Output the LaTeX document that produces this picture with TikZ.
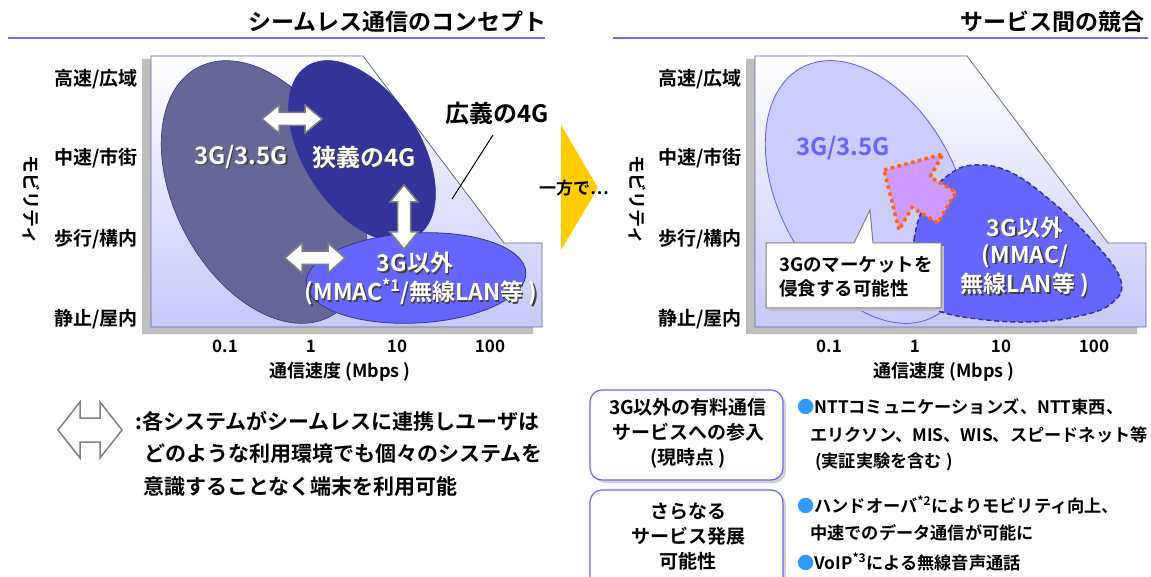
\documentclass[tikz,border=0pt]{standalone}
\usepackage{fontspec}
\setmainfont{Noto Sans CJK JP}[BoldFont=* Bold]
\definecolor{ulineblue}{RGB}{110,110,245}
\definecolor{polyedge}{RGB}{102,102,170}
\definecolor{polybot}{RGB}{200,200,250}
\definecolor{shadowgrey}{RGB}{191,191,191}
\definecolor{ellthree}{RGB}{102,102,153}
\definecolor{elldark}{RGB}{51,51,153}
\definecolor{ellmid}{RGB}{102,102,255}
\definecolor{elllight}{RGB}{204,204,255}
\definecolor{chevyellow}{RGB}{255,204,0}
\definecolor{arrpurple}{RGB}{204,153,255}
\definecolor{arrorange}{RGB}{255,102,0}
\definecolor{bulblue}{RGB}{51,153,255}
\definecolor{arrgrey}{RGB}{128,128,128}
\newcommand\dblarr[7]{%
  \draw[dblarrow, shift={(#1,#2)}, rotate=#3]
   (-#4,0) -- (-#4+#5,#6) -- (-#4+#5,#7) -- (#4-#5,#7) -- (#4-#5,#6) -- (#4,0)
   -- (#4-#5,-#6) -- (#4-#5,-#7) -- (-#4+#5,-#7) -- (-#4+#5,-#6) -- cycle;}
\newcommand\shtxt[5]{%
  \node[font=\fontsize{#4}{#4}\selectfont\bfseries, text=black!75, inner sep=0, align=center] (#1s) at (#2+1.5,#3-1.5) {#5};
  \node[font=\fontsize{#4}{#4}\selectfont\bfseries, text=white, inner sep=0, align=center] (#1) at (#2,#3) {#5};}
\begin{document}
\begin{tikzpicture}[x=1pt,y=1pt,
  title/.style={font=\fontsize{23}{23}\selectfont\bfseries, inner sep=0, anchor=east},
  uline/.style={draw=ulineblue, line width=1.3pt},
  ylab/.style={font=\fontsize{19}{19}\selectfont\bfseries, inner sep=0, anchor=east},
  xlab/.style={font=\fontsize{17}{17}\selectfont\bfseries, inner sep=0},
  mob/.style={font=\fontsize{18}{18}\selectfont\bfseries, inner sep=0, rotate=-90},
  plotpoly/.style={draw=polyedge, line width=0.8pt, top color=white, bottom color=polybot},
  dblarrow/.style={draw=arrgrey, fill=white, line width=1.5pt, line join=miter},
  btxt/.style={font=\fontsize{21}{21}\selectfont\bfseries, inner sep=0, anchor=west},
  bullt/.style={font=\fontsize{17.2}{17.2}\selectfont\bfseries, inner sep=0, anchor=west},
  boxtxt/.style={font=\fontsize{19}{25}\selectfont\bfseries, inner sep=0, align=center},
  rbox/.style={draw=ellmid, fill=white, line width=1.2pt, rounded corners=12pt},
  rboxsh/.style={fill=shadowgrey!70, rounded corners=12pt}]
\useasboundingbox (0,0) rectangle (1151,-577);
\fill[white] (0,0) rectangle (1151,-577);

% ---------- titles
\node[title] (ltitle) at (547,-22) {シームレス通信のコンセプト};
\node[title] (rtitle) at (1145,-22) {サービス間の競合};
\draw[uline] (8,-38) -- (545,-38);
\draw[uline] (613,-38) -- (1148,-38);

% ---------- left chart
\fill[shadowgrey] (142,-59) -- (356,-59) -- (496,-250) -- (533,-250) -- (533,-334) -- (142,-334) -- cycle;
\path[plotpoly] (151,-56) -- (363,-56) -- (504,-243) -- (542,-243) -- (542,-327) -- (151,-327) -- cycle;
\filldraw[fill=ellthree, draw=elldark, line width=0.6pt, rotate around={-62:(264,-192)}] (264,-192) ellipse [x radius=141pt, y radius=89pt];
\filldraw[fill=elldark, draw=elldark, line width=0.6pt, rotate around={-57:(362,-151)}] (362,-151) ellipse [x radius=101pt, y radius=58pt];
\filldraw[fill=ellmid, draw=elldark, line width=0.8pt, rotate around={3:(416,-278)}] (416,-278) ellipse [x radius=110pt, y radius=45pt];
\dblarr{292}{-119}{0}{30}{17}{14}{6.5}
\dblarr{404}{-217}{90}{32}{17}{14}{6.5}
\dblarr{315}{-258}{0}{30}{17}{15}{6.5}
\shtxt{tg}{241}{-157}{24}{3G/3.5G}
\shtxt{n4g}{364}{-157}{24}{狭義の4G}
\shtxt{oth}{415}{-263}{23}{3G以外}
\shtxt{mmac}{421}{-292}{23}{(MMAC\textsuperscript{*1}/無線LAN等 )}
\node[font=\fontsize{24}{24}\selectfont\bfseries, inner sep=0] (w4g) at (497,-113) {広義の4G};
\coordinate (leadA) at (493,-135);
\coordinate (leadB) at (452,-199);
\draw[line width=1pt] (leadA) -- (leadB);
\node[ylab] (l1) at (138,-79) {高速/広域};
\node[ylab] (l2) at (138,-158) {中速/市街};
\node[ylab] (l3) at (138,-239) {歩行/構内};
\node[ylab] (l4) at (138,-319) {静止/屋内};
\node[mob] (lmob) at (31,-200) {モビリティ};
\node[xlab] (lx1) at (225,-346) {0.1};
\node[xlab] (lx2) at (311,-346) {1};
\node[xlab] (lx3) at (397,-346) {10};
\node[xlab] (lx4) at (490,-346) {100};
\node[xlab, font=\fontsize{18}{18}\selectfont\bfseries] (lxt) at (340,-372) {通信速度 (Mbps )};

% ---------- chevron
\fill[chevyellow] (561,-125) -- (598,-188) -- (561,-250) -- cycle;
\node[font=\fontsize{17}{17}\selectfont\bfseries, inner sep=0] (ippo) at (574,-188) {一方で…};

% ---------- right chart
\fill[shadowgrey] (746,-59) -- (960,-59) -- (1100,-250) -- (1137,-250) -- (1137,-334) -- (746,-334) -- cycle;
\path[plotpoly] (755,-56) -- (967,-56) -- (1108,-243) -- (1146,-243) -- (1146,-327) -- (755,-327) -- cycle;
\filldraw[fill=elllight, draw=ellmid, line width=0.9pt, rotate around={-62:(868,-192)}] (868,-192) ellipse [x radius=141pt, y radius=89pt];
\node[font=\fontsize{24}{24}\selectfont\bfseries, text=ellmid, inner sep=0] (rtg) at (843,-148) {3G/3.5G};
\filldraw[fill=ellmid, draw=elldark, line width=1.5pt, dash pattern=on 5pt off 3pt]
  plot[smooth cycle, tension=0.7] coordinates {(912,-300) (914,-240) (928,-198) (950,-174) (975,-165) (1010,-172) (1050,-200) (1090,-238) (1120,-278) (1112,-303) (1075,-317) (1025,-322) (970,-318) (935,-310)};
\shtxt{roth}{1025}{-257}{23}{3G以外\\[4pt](MMAC/\\[4pt]無線LAN等 )}
\filldraw[fill=arrpurple, draw=arrorange, line width=3.5pt, dash pattern=on 3.5pt off 3.5pt, line join=miter]
  (884,-170) -- (943,-154) -- (930,-177) -- (956,-192) -- (938,-223) -- (912,-207.5) -- (899,-230) -- cycle;
\fill[shadowgrey] (769,-246) -- (944,-246) -- (944,-311) -- (769,-311) -- cycle;
\filldraw[fill=white, draw=arrgrey, line width=1pt] (766,-243) -- (854,-243) -- (870,-210) -- (873,-243) -- (941,-243) -- (941,-308) -- (766,-308) -- cycle;
\node[font=\fontsize{18.5}{18.5}\selectfont\bfseries, inner sep=0, anchor=west] (c1) at (779,-265) {3Gのマーケットを};
\node[font=\fontsize{18.5}{18.5}\selectfont\bfseries, inner sep=0, anchor=west] (c2) at (779,-288) {侵食する可能性};
\node[ylab] (r1) at (742,-79) {高速/広域};
\node[ylab] (r2) at (742,-158) {中速/市街};
\node[ylab] (r3) at (742,-239) {歩行/構内};
\node[ylab] (r4) at (742,-319) {静止/屋内};
\node[mob] (rmob) at (637,-200) {モビリティ};
\node[xlab] (rx1) at (829,-346) {0.1};
\node[xlab] (rx2) at (915,-346) {1};
\node[xlab] (rx3) at (1001,-346) {10};
\node[xlab] (rx4) at (1094,-346) {100};
\node[xlab, font=\fontsize{18}{18}\selectfont\bfseries] (rxt) at (944,-372) {通信速度 (Mbps )};

% ---------- bottom left legend
\dblarr{90}{-430}{0}{32}{22}{28}{12}
\node[btxt] (b1) at (135,-421) {:各システムがシームレスに連携しユーザは};
\node[btxt] (b2) at (144,-454) {どのような利用環境でも個々のシステムを};
\node[btxt] (b3) at (143,-487) {意識することなく端末を利用可能};

% ---------- bottom right boxes
\fill[rboxsh] (593,-393) rectangle (786,-483);
\path[rbox] (590,-390) rectangle (783,-480);
\node[boxtxt] (bx1) at (688,-433) {3G以外の有料通信\\サービスへの参入\\(現時点 )};
\fill[rboxsh] (593,-493) rectangle (786,-593);
\path[rbox] (590,-490) rectangle (783,-590);
\node[boxtxt] (bx2) at (688,-537) {さらなる\\サービス発展\\可能性};
\node[bullt] (t1) at (797,-407) {\textcolor{bulblue}{●}NTTコミュニケーションズ、NTT東西、};
\node[bullt] (t2) at (810,-435) {エリクソン、MIS、WIS、スピードネット等};
\node[bullt] (t3) at (815,-462) {(実証実験を含む )};
\node[bullt] (t4) at (797,-505) {\textcolor{bulblue}{●}ハンドオーバ\textsuperscript{*2}によりモビリティ向上、};
\node[bullt] (t5) at (810,-533) {中速でのデータ通信が可能に};
\node[bullt] (t6) at (797,-562) {\textcolor{bulblue}{●}VoIP\textsuperscript{*3}による無線音声通話};
\end{tikzpicture}
\end{document}
